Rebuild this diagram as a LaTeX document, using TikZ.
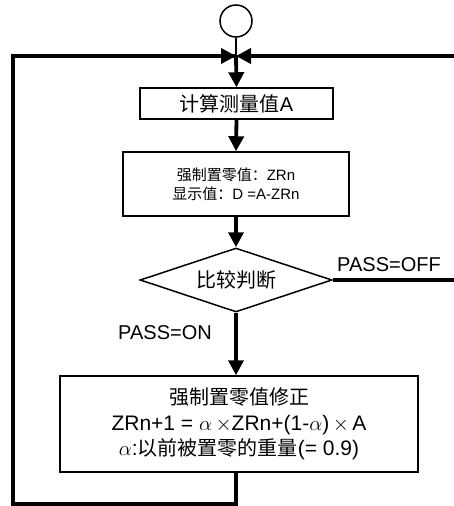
\documentclass[tikz,border=0pt]{standalone}
\usepackage{fontspec}
\setmainfont{Liberation Sans}
\newfontfamily\cjk{Noto Sans CJK SC}
\usetikzlibrary{arrows.meta,shapes.geometric}
\tikzset{
  flow/.style={line width=3.8pt},
  tip/.style={-{Triangle[length=15pt,width=15pt]}},
  procbox/.style={draw,line width=1.5pt,rectangle,inner sep=0pt,align=center},
  decide/.style={draw,line width=1.5pt,diamond,aspect=3,inner sep=0pt,minimum width=192pt,minimum height=64pt},
  lbl/.style={inner sep=0pt,font=\fontsize{20}{24}\selectfont}
}
\begin{document}
\begin{tikzpicture}[x=1pt,y=-1pt]
\useasboundingbox (0,0) rectangle (454,506);
\node[draw,circle,line width=1.5pt,minimum size=32pt,inner sep=0pt] (start) at (236,21) {};
\coordinate (J) at (236,56);
\node[procbox,minimum width=193pt,minimum height=31pt,font=\fontsize{20}{24}\selectfont] (b1) at (236.5,103.5) {{\cjk 计算测量值}A};
\node[procbox,minimum width=226pt,minimum height=64pt,font=\fontsize{15}{19}\selectfont] (b2) at (236,184)
  {{\cjk 强制置零值：}ZRn\\{\cjk 显示值：}D =A-ZRn};
\node[decide,font=\fontsize{20}{24}\selectfont] (dia) at (236,280) {\cjk 比较判断};
\node[procbox,minimum width=358pt,minimum height=96pt,font=\fontsize{20}{25.5}\selectfont] (b3) at (239,424)
  {{\cjk 强制置零值修正}\\
   {\fontsize{21}{25.5}\selectfont ZRn+1 = $\alpha\,\times$ZRn+(1-$\alpha$)$\,\times\,$A}\\
   {\fontsize{21}{25.5}\selectfont $\alpha$:}{\cjk 以前被置零的重量}{\fontsize{21}{25.5}\selectfont(= 0.9)}};
\coordinate (R) at (454,56);
\coordinate (OffEnd) at (454,280);
\coordinate (B) at (236,504);
\coordinate (BL) at (13,504);
\coordinate (TL) at (13,56);
\node[lbl] (off) at (389,265) {PASS=OFF};
\node[lbl] (on) at (165,333) {PASS=ON};
% connectors
\draw[line width=1.5pt] (start.south) -- (J);
\draw[flow,tip] (J) -- (b1.north);
\draw[flow,tip] (b1.south) -- (b2.north);
\draw[flow,tip] (b2.south) -- (dia.north);
\draw[flow,tip] (dia.south) -- (dia.south |- b3.north);
\draw[flow] (dia.east) -- (OffEnd);
\draw[flow] (b3.south -| B) -- (B) -- (BL) -- (TL) -- ([xshift=-1pt]J);
\draw[flow,tip] (TL) -- (J);
\draw[flow,tip] (R) -- (J);
\end{tikzpicture}
\end{document}
